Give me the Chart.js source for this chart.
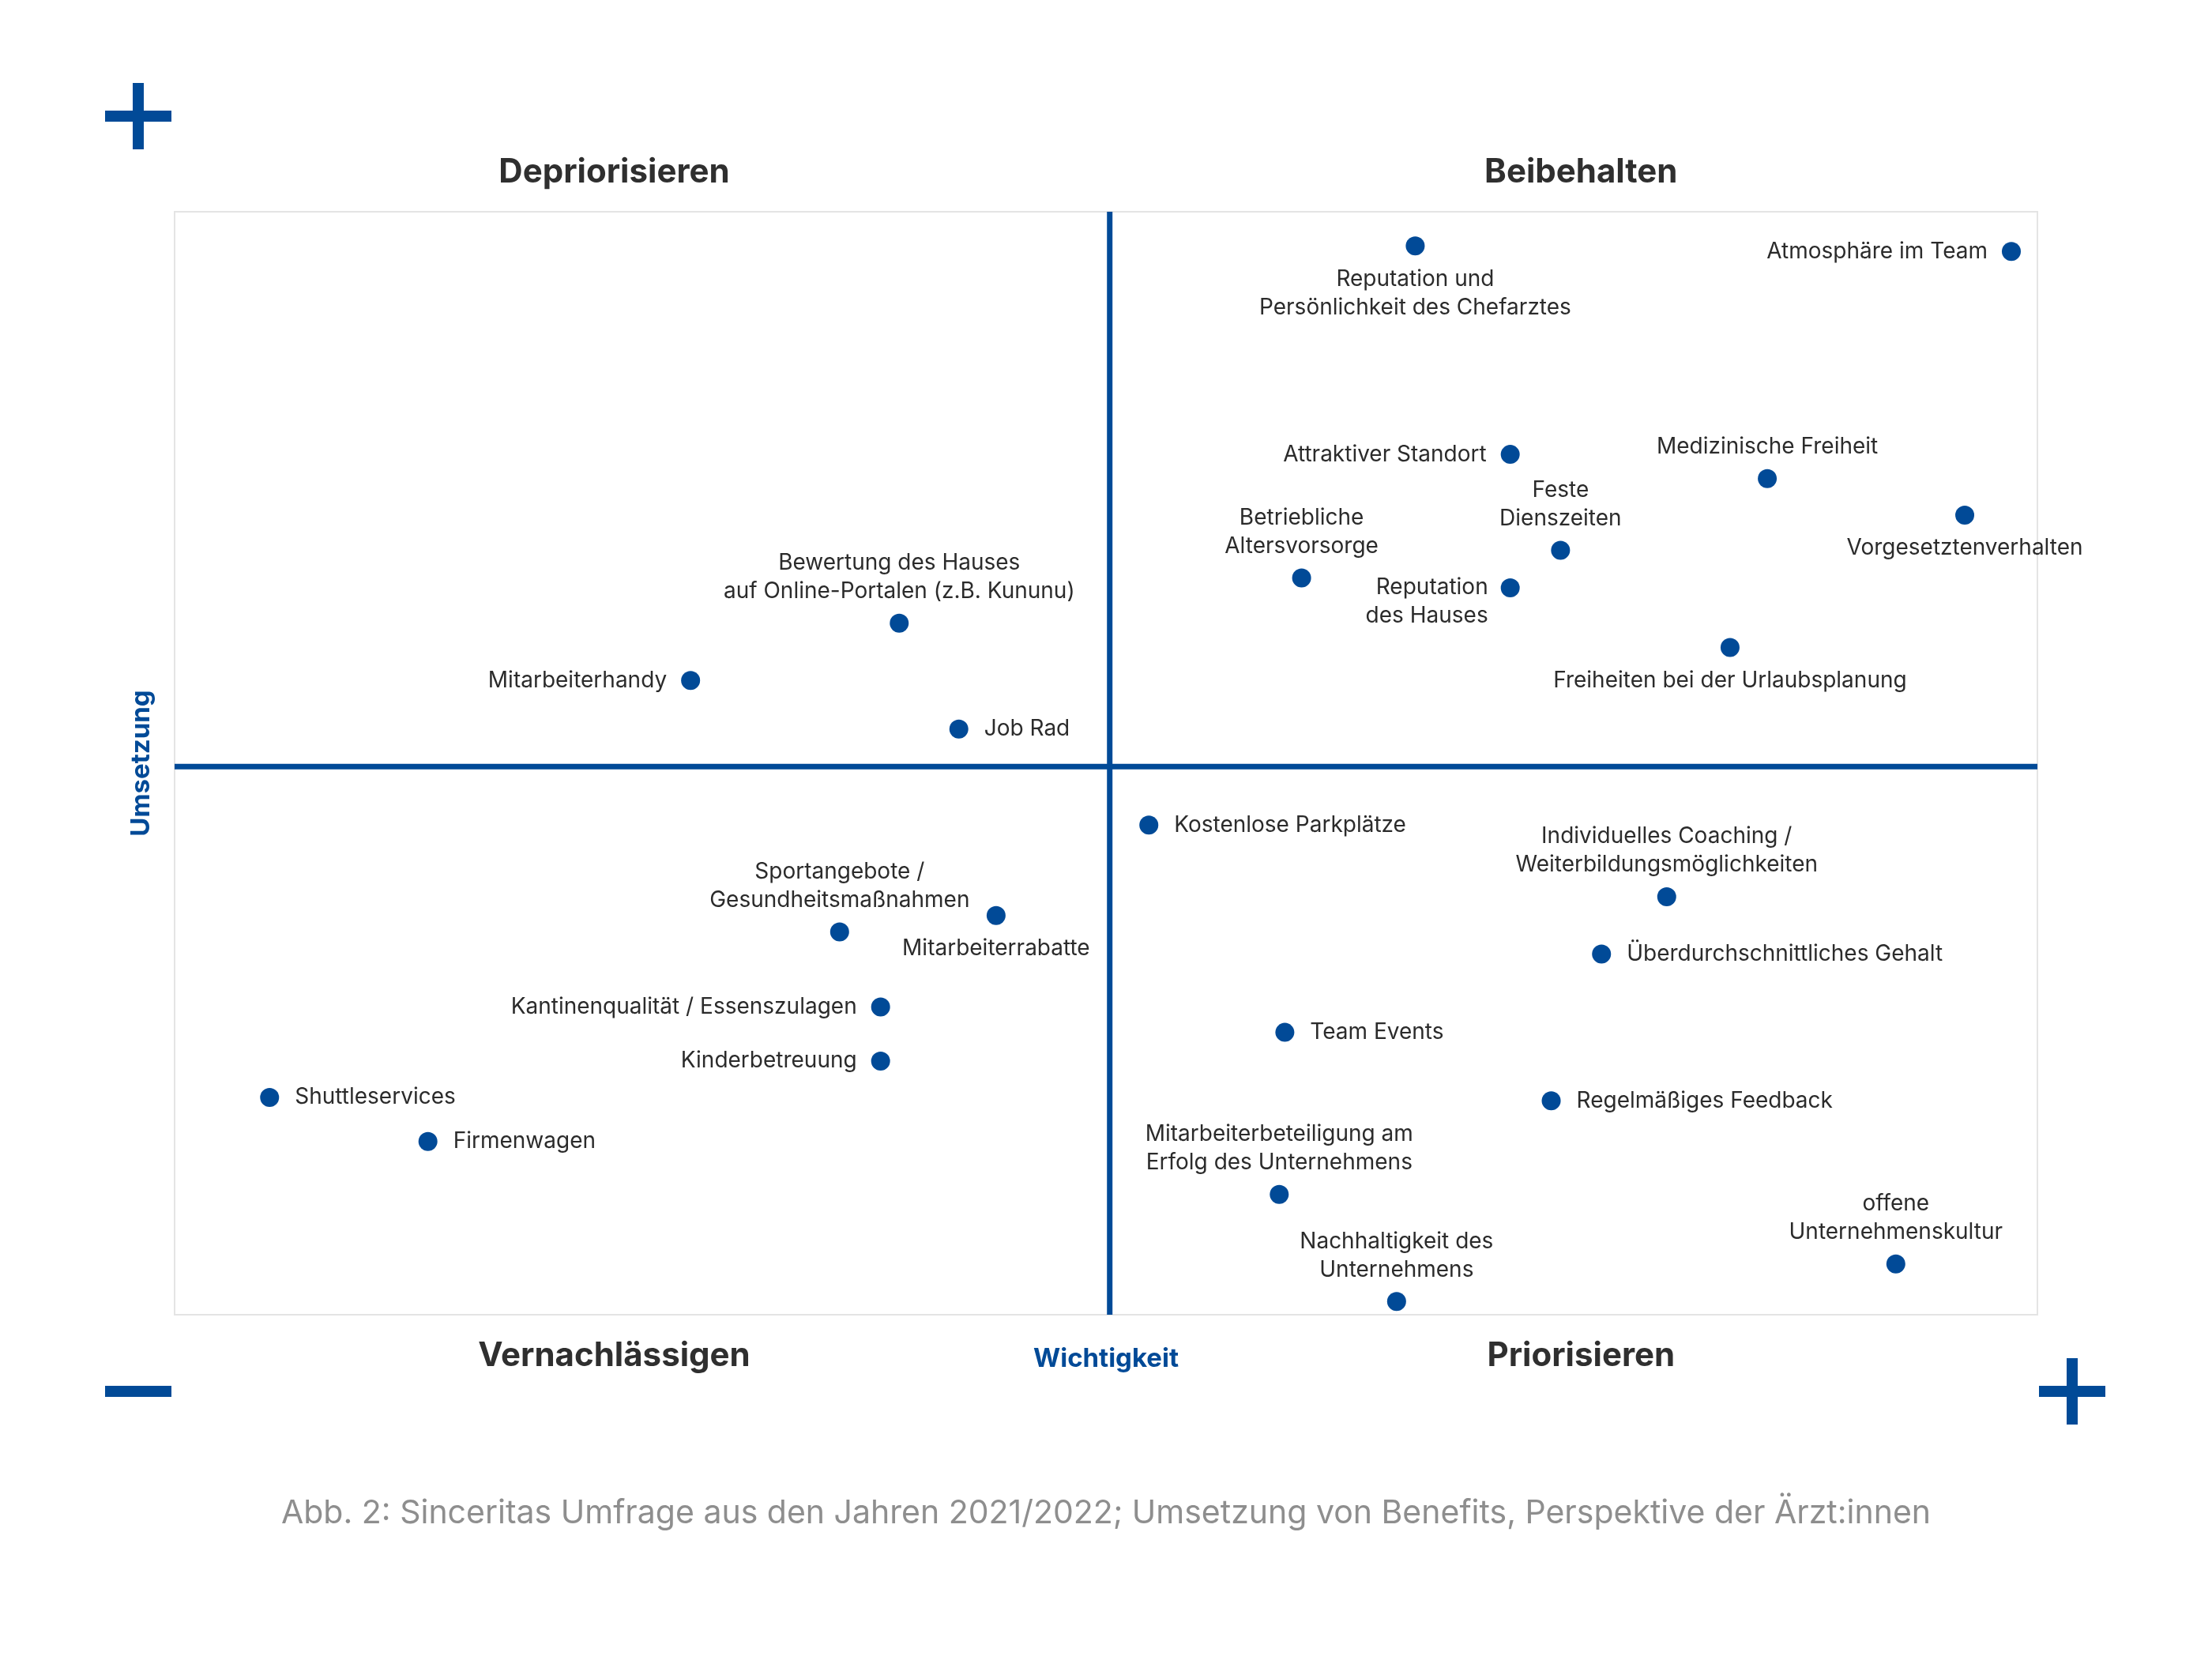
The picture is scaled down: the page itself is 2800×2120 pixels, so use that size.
<!DOCTYPE html>
<html lang="de">
<head>
<meta charset="utf-8">
<title>Umsetzung von Benefits</title>
<script src="https://cdn.jsdelivr.net/npm/chart.js@4"></script>
<style>
  html, body { margin: 0; padding: 0; background: #fff; }
  #wrap { width: 2800px; height: 2120px; position: relative; }
</style>
</head>
<body>
<div id="wrap"><canvas id="matrix"></canvas></div>
<script>
// Benefits, Wichtigkeit (x) und Umsetzung (y), Skala 0..10, Mitte = 5
const benefits = [
  'Reputation und\nPersönlichkeit des Chefarztes',
  'Atmosphäre im Team',
  'Attraktiver Standort',
  'Medizinische Freiheit',
  'Vorgesetztenverhalten',
  'Feste\nDienszeiten',
  'Betriebliche\nAltersvorsorge',
  'Reputation\ndes Hauses',
  'Freiheiten bei der Urlaubsplanung',
  'Bewertung des Hauses\nauf Online-Portalen (z.B. Kununu)',
  'Mitarbeiterhandy',
  'Job Rad',
  'Kostenlose Parkplätze',
  'Individuelles Coaching /\nWeiterbildungsmöglichkeiten',
  'Überdurchschnittliches Gehalt',
  'Sportangebote /\nGesundheitsmaßnahmen',
  'Mitarbeiterrabatte',
  'Kantinenqualität / Essenszulagen',
  'Kinderbetreuung',
  'Team Events',
  'Regelmäßiges Feedback',
  'Shuttleservices',
  'Firmenwagen',
  'Mitarbeiterbeteiligung am\nErfolg des Unternehmens',
  'Nachhaltigkeit des\nUnternehmens',
  'offene\nUnternehmenskultur'
];
const wichtigkeit = [6.66, 9.86, 7.17, 8.55, 9.61, 7.44, 6.05, 7.17, 8.35, 3.89, 2.77, 4.21, 5.23,
                     8.01, 7.66, 3.57, 4.41, 3.79, 3.79, 5.96, 7.39, 0.51, 1.36, 5.93, 6.56, 9.24];
const umsetzung = [9.69, 9.64, 7.80, 7.58, 7.25, 6.93, 6.68, 6.59, 6.05, 6.27, 5.75, 5.31, 4.44,
                   3.79, 3.27, 3.47, 3.62, 2.79, 2.30, 2.56, 1.94, 1.97, 1.57, 1.09, 0.12, 0.46];
const quadrants = ['Depriorisieren', 'Beibehalten', 'Vernachlässigen', 'Priorisieren'];
const caption = 'Abb. 2: Sinceritas Umfrage aus den Jahren 2021/2022; Umsetzung von Benefits, Perspektive der Ärzt:innen';

// where each label sits next to its point
const labelPlace = ['below', 'left', 'left', 'above', 'below', 'above', 'above', 'left2', 'below', 'above',
                    'left', 'right', 'right', 'above', 'right', 'above', 'below', 'left', 'left', 'right',
                    'right', 'right', 'right', 'above', 'above', 'above'];

const BLUE = '#014a97';
const FONT = 'Inter, "Noto Sans", sans-serif';

const points = wichtigkeit.map((v, i) => ({ x: v, y: umsetzung[i] }));

const quadrantPlugin = {
  id: 'quadrant',
  beforeDatasetsDraw(chart) {
    const { ctx, chartArea: a, scales } = chart;
    ctx.save();
    ctx.strokeStyle = '#e4e4e4';
    ctx.lineWidth = 2;
    ctx.strokeRect(a.left, a.top, a.right - a.left, a.bottom - a.top);
    const cx = scales.x.getPixelForValue(5.02);
    const cy = scales.y.getPixelForValue(4.97);
    ctx.strokeStyle = BLUE;
    ctx.lineWidth = 7;
    ctx.beginPath();
    ctx.moveTo(cx, a.top); ctx.lineTo(cx, a.bottom);
    ctx.moveTo(a.left, cy); ctx.lineTo(a.right, cy);
    ctx.stroke();
    ctx.restore();
  },
  afterDatasetsDraw(chart) {
    const { ctx } = chart;
    const meta = chart.getDatasetMeta(0);
    const lh = 36;
    ctx.save();
    ctx.font = '28px ' + FONT;
    ctx.fillStyle = '#2b2b2b';
    ctx.textBaseline = 'middle';
    meta.data.forEach((el, i) => {
      const lines = benefits[i].split('\n');
      const pos = labelPlace[i];
      const n = lines.length;
      lines.forEach((t, k) => {
        let x = el.x, y = el.y;
        if (pos === 'left') {
          ctx.textAlign = 'right';
          x -= 30;
          y += (k - (n - 1) / 2) * lh;
        } else if (pos === 'left2') {
          ctx.textAlign = 'right';
          x -= 28;
          y += k * lh;
        } else if (pos === 'right') {
          ctx.textAlign = 'left';
          x += 32;
        } else if (pos === 'above') {
          ctx.textAlign = 'center';
          y -= 40 + (n - 1 - k) * lh;
        } else {
          ctx.textAlign = 'center';
          y += 42 + k * lh;
        }
        ctx.fillText(t, x, y);
      });
    });
    ctx.restore();
  },
  afterDraw(chart) {
    const { ctx, chartArea: a, scales } = chart;
    ctx.save();
    // quadrant names
    ctx.font = 'bold 42px ' + FONT;
    ctx.fillStyle = '#2f2f2f';
    ctx.textAlign = 'center';
    ctx.textBaseline = 'middle';
    const lx = scales.x.getPixelForValue(2.36);
    const rx = scales.x.getPixelForValue(7.55);
    ctx.fillText(quadrants[0], lx, a.top - 50);
    ctx.fillText(quadrants[1], rx, a.top - 50);
    ctx.fillText(quadrants[2], lx, a.bottom + 52);
    ctx.fillText(quadrants[3], rx, a.bottom + 52);

    // axis names
    ctx.fillStyle = BLUE;
    ctx.font = 'bold 33px ' + FONT;
    ctx.fillText('Wichtigkeit', scales.x.getPixelForValue(5), a.bottom + 56);
    ctx.save();
    ctx.translate(a.left - 42, scales.y.getPixelForValue(5));
    ctx.rotate(-Math.PI / 2);
    ctx.fillText('Umsetzung', 0, 0);
    ctx.restore();

    // plus / minus markers
    const plus = (x, y) => {
      ctx.fillRect(x - 42, y - 7, 84, 14);
      ctx.fillRect(x - 7, y - 42, 14, 84);
    };
    plus(175, 147);
    plus(2623, 1761);
    ctx.fillRect(175 - 42, 1761 - 7, 84, 14);

    // caption
    ctx.fillStyle = '#8e8e8e';
    ctx.font = '41px ' + FONT;
    ctx.fillText(caption, 1400, 1916);
    ctx.restore();
  }
};

const chart = new Chart(document.getElementById('matrix'), {
  type: 'scatter',
  data: {
    datasets: [{
      label: 'Benefits',
      data: points,
      backgroundColor: BLUE,
      borderWidth: 0,
      pointRadius: 12,
      pointHoverRadius: 12
    }]
  },
  options: {
    responsive: true,
    maintainAspectRatio: false,
    animation: false,
    layout: { padding: { left: 221, right: 221, top: 268, bottom: 456 } },
    plugins: { legend: { display: false }, tooltip: { enabled: false } },
    scales: {
      x: { display: false, min: 0, max: 10 },
      y: { display: false, min: 0, max: 10 }
    }
  },
  plugins: [quadrantPlugin]
});
</script>
</body>
</html>
